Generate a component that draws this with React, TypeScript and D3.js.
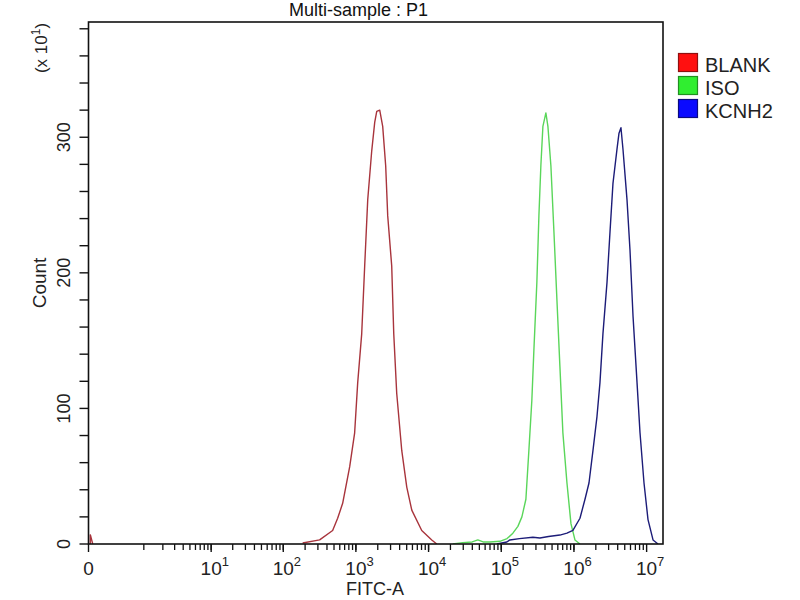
import React from 'react';
import * as d3 from 'd3';

const title = 'Multi-sample : P1';
const xLabel = 'FITC-A';
const yLabel = 'Count';
const yMultiplier = '1';

const seriesNames = ['BLANK', 'ISO', 'KCNH2'];
const lineColors = ['#a8343c', '#5ad65a', '#1c1c78'];
const legendFill = ['#ff1010', '#30ee30', '#0a0aff'];
const legendStroke = ['#901010', '#209020', '#0a0a80'];

// log10 of FITC-A value, and count (x10)
const blankExp = [2.267, 2.501, 2.68, 2.749, 2.818, 2.915, 2.983, 3.025, 3.08, 3.121, 3.163, 3.218, 3.259, 3.287, 3.328, 3.369, 3.41, 3.438, 3.493, 3.521, 3.562, 3.631, 3.7, 3.769, 3.906, 4.044, 4.113];
const blankCount = [0.7, 3, 10, 19, 30, 57, 82, 119, 155, 205, 254, 290, 311, 319, 320, 308, 279, 242, 205, 155, 111, 69, 42, 25, 10, 3, 0];

const blankZeroValue = [0.012, 0.012, 0.03];
const blankZeroCount = [0, 7, 0];

const isoExp = [4.333, 4.471, 4.6, 4.678, 4.75, 4.843, 4.981, 5.08, 5.16, 5.229, 5.284, 5.339, 5.38, 5.421, 5.449, 5.49, 5.518, 5.545, 5.573, 5.614, 5.642, 5.683, 5.725, 5.766, 5.807, 5.848, 5.904, 5.959, 6.014, 6.083];
const isoCount = [0, 1, 1.5, 3, 1.5, 1.5, 2, 4, 8, 13, 20, 33, 69, 106, 143, 193, 242, 279, 308, 318, 308, 279, 230, 180, 131, 82, 45, 15, 3, 0];

const kcnhExp = [4.939, 5.077, 5.118, 5.25, 5.435, 5.532, 5.65, 5.807, 5.904, 5.986, 6.083, 6.152, 6.207, 6.262, 6.317, 6.358, 6.399, 6.455, 6.496, 6.537, 6.592, 6.62, 6.647, 6.675, 6.73, 6.771, 6.813, 6.868, 6.909, 6.964, 7.019, 7.088, 7.157];
const kcnhCount = [0, 1.5, 3, 4, 5, 4.4, 5.5, 6.6, 8, 10, 19, 33, 45, 69, 94, 119, 155, 193, 230, 266, 291, 303, 307, 291, 254, 217, 168, 119, 82, 45, 18, 3, 0];

const yTicks = d3.range(0, 381, 20);
const yTickLabels = [0, 100, 200, 300];
const xDecades = [1, 2, 3, 4, 5, 6, 7];
const xMinorMultipliers = [2, 3, 4, 5, 6, 7, 8, 9];
const xMax = 1.68e7;
const yMax = 385;

const FONT = "'Liberation Sans', Arial, sans-serif";

export default function App() {
  const left = 88.5, right = 663, top = 22, bottom = 544;
  const x = d3.scaleSymlog().constant(0.2096).domain([0, xMax]).range([left, right]);
  const y = d3.scaleLinear().domain([0, yMax]).range([bottom, top]);

  const line = d3.line<[number, number]>().x(d => x(d[0])).y(d => y(d[1]));

  const toPts = (exps: number[], counts: number[]) =>
    exps.map((e, i) => [Math.pow(10, e), counts[i]] as [number, number]);

  const series = [
    toPts(blankExp, blankCount),
    toPts(isoExp, isoCount),
    toPts(kcnhExp, kcnhCount),
  ];
  const zeroSpike = blankZeroValue.map((v, i) => [v, blankZeroCount[i]] as [number, number]);

  const minorTicks: number[] = [1];
  for (let k = 0; k <= 6; k++) {
    for (const m of xMinorMultipliers) {
      const v = m * Math.pow(10, k);
      if (v < xMax) minorTicks.push(v);
    }
  }
  for (let k = 1; k <= 6; k++) minorTicks.push(Math.pow(10, k));
  const majorTicks = [0, ...xDecades.map(k => Math.pow(10, k))];

  return (
    <svg width={800} height={600} style={{ position: 'absolute', left: 0, top: 0, background: '#fff' }}>
      <rect x={0} y={0} width={800} height={600} fill="#fff" />
      <text x={289} y={16} fontFamily={FONT} fontSize={18} fill="#111">{title}</text>

      <defs>
        <clipPath id="plotClip">
          <rect x={left} y={top} width={right - left} height={bottom - top} />
        </clipPath>
      </defs>

      <g clipPath="url(#plotClip)">
        <path d={line(zeroSpike) || ''} fill="none" stroke={lineColors[0]} strokeWidth={1.4} />
        {series.map((s, i) => (
          <path key={i} d={line(s) || ''} fill="none" stroke={lineColors[i]} strokeWidth={1.4} strokeLinejoin="round" />
        ))}
      </g>

      <rect x={left} y={top} width={right - left} height={bottom - top} fill="none" stroke="#111" strokeWidth={1.6} />

      {/* y ticks */}
      {yTicks.map(t => (
        <line key={t} x1={left - 9} x2={left} y1={y(t)} y2={y(t)} stroke="#111" strokeWidth={1.4} />
      ))}
      {yTickLabels.map(t => (
        <text key={t} transform={`translate(70,${y(t)}) rotate(-90)`} textAnchor="middle"
          fontFamily={FONT} fontSize={18} fill="#222">{t}</text>
      ))}
      <text transform={`translate(46,283) rotate(-90)`} textAnchor="middle" fontFamily={FONT} fontSize={19} fill="#222">{yLabel}</text>
      <text transform={`translate(47,48) rotate(-90)`} textAnchor="middle" fontFamily={FONT} fontSize={17} fill="#222">
        (x 10<tspan fontSize={12} dy={-7}>{yMultiplier}</tspan><tspan dy={7}>)</tspan>
      </text>

      {/* x ticks */}
      {minorTicks.map((t, i) => (
        <line key={'m' + i} x1={x(t)} x2={x(t)} y1={bottom} y2={bottom + 6} stroke="#111" strokeWidth={1.3} />
      ))}
      {majorTicks.map((t, i) => (
        <line key={'M' + i} x1={x(t)} x2={x(t)} y1={bottom} y2={bottom + 8} stroke="#111" strokeWidth={1.4} />
      ))}
      <text x={x(0)} y={575} textAnchor="middle" fontFamily={FONT} fontSize={19} fill="#222">0</text>
      {xDecades.map(k => (
        <g key={k}>
          <text x={x(Math.pow(10, k))} y={575} textAnchor="middle" fontFamily={FONT} fontSize={19} fill="#222">10</text>
          <text x={x(Math.pow(10, k)) + 10.5} y={566} fontFamily={FONT} fontSize={13} fill="#222">{k}</text>
        </g>
      ))}
      <text x={375} y={595} textAnchor="middle" fontFamily={FONT} fontSize={18} fill="#222">{xLabel}</text>

      {/* legend */}
      {seriesNames.map((n, i) => (
        <g key={n}>
          <rect x={678.5} y={53.5 + i * 23} width={19} height={18} fill={legendFill[i]} stroke={legendStroke[i]} strokeWidth={1.2} />
          <text x={705} y={72 + i * 23} fontFamily={FONT} fontSize={20} fill="#222">{n}</text>
        </g>
      ))}
    </svg>
  );
}
